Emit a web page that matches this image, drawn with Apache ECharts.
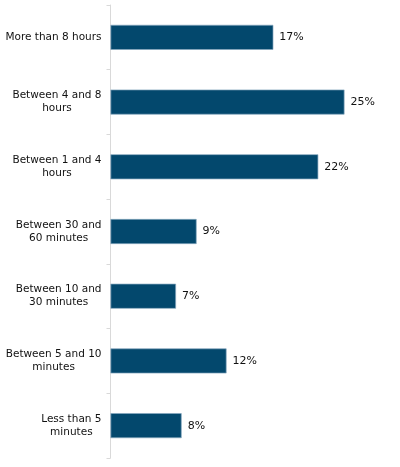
<!DOCTYPE html>
<html>
<head>
<meta charset="utf-8">
<script src="https://cdn.jsdelivr.net/npm/echarts@6/dist/echarts.min.js"></script>
<style>html,body{margin:0;padding:0;background:#fff}#c{width:400px;height:467px}</style>
</head>
<body>
<div id="c"></div>
<script>
const categories = [
  ['More than 8 hours'],
  ['Between 4 and 8', 'hours'],
  ['Between 1 and 4', 'hours'],
  ['Between 30 and', '60 minutes'],
  ['Between 10 and', '30 minutes'],
  ['Between 5 and 10', 'minutes'],
  ['Less than 5', 'minutes']
];
const values = [17.4, 25.0, 22.2, 9.2, 7.0, 12.4, 7.6];
const valueLabels = ['17%', '25%', '22%', '9%', '7%', '12%', '8%'];

const names = categories.map(c => c.join('\n'));
const chart = echarts.init(document.getElementById('c'));
chart.setOption({
  animation: false,
  grid: { left: 110.5, right: 8.7, top: 5, bottom: 9, containLabel: false },
  xAxis: {
    type: 'value', min: 0, max: 30, show: false
  },
  yAxis: {
    type: 'category', inverse: true, data: names,
    axisLine: { show: true, lineStyle: { color: '#d9d9d9', width: 1 } },
    axisTick: { show: true, length: 4, lineStyle: { color: '#d9d9d9' } },
    axisLabel: {
      margin: 9,
      fontFamily: 'DejaVu Sans', fontSize: 10.5, color: '#111', lineHeight: 13,
      formatter: function (v) {
        return v.split('\n').map(s => '{c|' + s + '}').join('\n');
      },
      rich: { c: { align: 'center', fontFamily: 'DejaVu Sans', fontSize: 10.5, color: '#111', lineHeight: 13 } }
    },
    splitLine: { show: false }
  },
  series: [{
    type: 'bar', data: values, barWidth: 25,
    itemStyle: { color: '#03486d', borderColor: '#86a8bf', borderWidth: 0.7 },
    label: {
      show: true, position: 'right', distance: 6,
      fontFamily: 'DejaVu Sans', fontSize: 11, color: '#111',
      formatter: p => valueLabels[p.dataIndex]
    }
  }]
});
</script>
</body>
</html>
